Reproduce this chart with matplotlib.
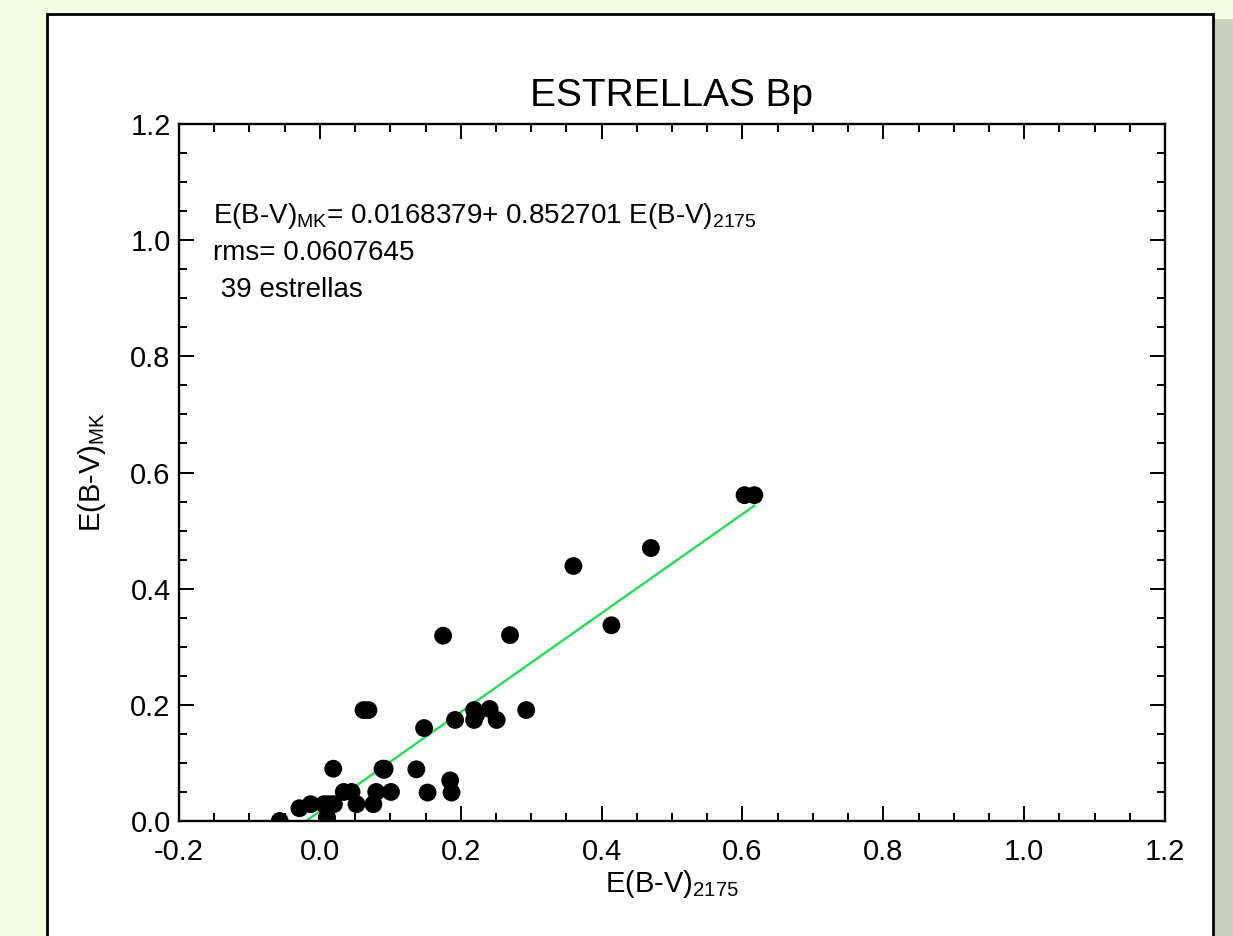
import matplotlib
matplotlib.use("Agg")
import matplotlib.pyplot as plt
from matplotlib.patches import Rectangle
from matplotlib.ticker import MultipleLocator
import numpy as np

plt.rcParams['font.family'] = ['Liberation Sans', 'DejaVu Sans']
plt.rcParams['mathtext.fontset'] = 'custom'
plt.rcParams['mathtext.rm'] = 'Liberation Sans'
plt.rcParams['mathtext.it'] = 'Liberation Sans'

# data
ebv_2175 = [-0.057, -0.029, -0.013, 0.006, 0.010, 0.010, 0.013, 0.020, 0.019,
            0.034, 0.045, 0.052, 0.062, 0.069, 0.076, 0.080, 0.089, 0.092,
            0.091, 0.101, 0.137, 0.148, 0.153, 0.175, 0.185, 0.187, 0.192,
            0.219, 0.219, 0.222, 0.241, 0.251, 0.270, 0.293, 0.360, 0.414,
            0.470, 0.603, 0.617]
ebv_mk = [0.000, 0.022, 0.029, 0.029, 0.007, 0.005, 0.029, 0.029, 0.090,
          0.050, 0.050, 0.029, 0.191, 0.191, 0.029, 0.050, 0.090, 0.090,
          0.088, 0.050, 0.089, 0.160, 0.049, 0.319, 0.070, 0.049, 0.174,
          0.191, 0.174, 0.183, 0.193, 0.174, 0.320, 0.191, 0.439, 0.337,
          0.470, 0.561, 0.561]
intercept = 0.0168379
slope = 0.852701
rms = 0.0607645
xticks = [-0.2, 0.0, 0.2, 0.4, 0.6, 0.8, 1.0, 1.2]
yticks = [0.0, 0.2, 0.4, 0.6, 0.8, 1.0, 1.2]

W, H = 1233, 936
fig = plt.figure(figsize=(W / 100, H / 100), dpi=100)
fig.patch.set_facecolor('#f2fde2')

# panel and right strip
fig.patches.append(Rectangle((1213 / W, 0), (W - 1213) / W, 1 - 19 / H,
                             transform=fig.transFigure, facecolor='#c9d1bd',
                             edgecolor='none', zorder=0))
fig.patches.append(Rectangle((47 / W, -0.01), (1213 - 47) / W, 1.01 - 14 / H,
                             transform=fig.transFigure, facecolor='white',
                             edgecolor='black', linewidth=2.0, zorder=1))

ax = fig.add_axes([179 / W, 1 - 821 / H, (1165 - 179) / W, (821 - 124) / H])
ax.set_zorder(2)
ax.set_facecolor('white')

ax.scatter(ebv_2175, ebv_mk, s=165, color='black', edgecolors='none', zorder=3)

xs = np.array([min(ebv_2175), max(ebv_2175)])
ax.plot(xs, intercept + slope * xs, color='#22dd55', linewidth=1.7, zorder=2)

ax.set_xlim(-0.2, 1.2)
ax.set_ylim(0.0, 1.2)
ax.set_xticks(xticks)
ax.set_yticks(yticks)
ax.set_xticklabels([f'{t:.1f}' for t in xticks])
ax.set_yticklabels([f'{t:.1f}' for t in yticks])
ax.xaxis.set_minor_locator(MultipleLocator(0.05))
ax.yaxis.set_minor_locator(MultipleLocator(0.05))
ax.tick_params(which='both', direction='in', top=True, right=True, width=1.4)
ax.tick_params(which='major', length=11, labelsize=21)
ax.tick_params(axis='x', which='major', pad=12)
ax.tick_params(axis='y', which='major', pad=6)
ax.tick_params(which='minor', length=6)
for sp in ax.spines.values():
    sp.set_linewidth(1.7)

ax.set_title('ESTRELLAS Bp', fontsize=28, pad=13)
ax.set_xlabel(r'E(B-V)$_{\mathrm{2175}}$', fontsize=21, labelpad=2)
ax.set_ylabel(r'E(B-V)$_{\mathrm{MK}}$', fontsize=21, labelpad=16)

ax.text(-0.152, 1.029,
        r'E(B-V)$_{\mathrm{MK}}$= ' + f'{intercept}+ {slope} ' + r'E(B-V)$_{\mathrm{2175}}$',
        fontsize=20, ha='left', va='baseline')
ax.text(-0.152, 0.965, f'rms= {rms}', fontsize=20, ha='left', va='baseline')
ax.text(-0.152, 0.903, f' {len(ebv_2175)} estrellas', fontsize=20, ha='left', va='baseline')

fig.savefig('out.png', dpi=100, facecolor=fig.get_facecolor())
